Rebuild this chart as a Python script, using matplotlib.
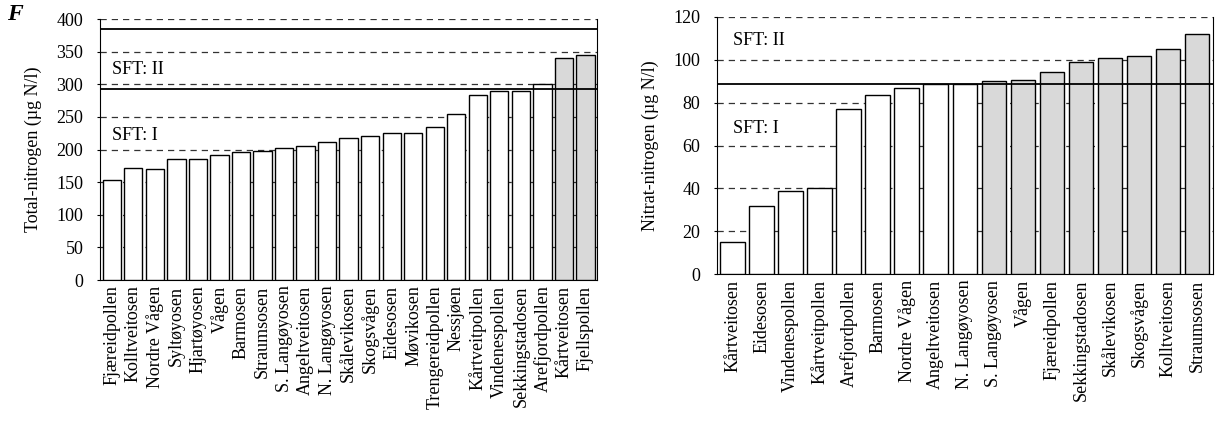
import matplotlib

matplotlib.use("Agg")
import matplotlib.pyplot as plt

plt.rcParams["font.family"] = ["Liberation Serif", "DejaVu Serif"]

# Panel F, left: total nitrogen
total_sites = [
    "Fjæreidpollen", "Kolltveitosen", "Nordre Vågen", "Syltøyosen", "Hjartøyosen",
    "Vågen", "Barmosen", "Straumsosen", "S. Langøyosen", "Angeltveitosen",
    "N. Langøyosen", "Skålevikosen", "Skogsvågen", "Eidesosen", "Møvikosen",
    "Trengereidpollen", "Nessjøen", "Kårtveitpollen", "Vindenespollen",
    "Sekkingstadosen", "Arefjordpollen", "Kårtveitosen", "Fjellspollen",
]
total_values = [153, 171, 170, 186, 186, 192, 196, 197, 203, 206, 211, 217, 220,
                226, 226, 234, 255, 284, 289, 289, 301, 341, 345]
total_dotted = [False] * 21 + [True] * 2
total_limits = [293, 385]

# right: nitrate nitrogen
nitrate_sites = [
    "Kårtveitosen", "Eidesosen", "Vindenespollen", "Kårtveitpollen", "Arefjordpollen",
    "Barmosen", "Nordre Vågen", "Angeltveitosen", "N. Langøyosen", "S. Langøyosen",
    "Vågen", "Fjæreidpollen", "Sekkingstadosen", "Skålevikosen", "Skogsvågen",
    "Kolltveitosen", "Straumsosen",
]
nitrate_values = [15.1, 31.9, 39.0, 40.0, 77.0, 83.8, 86.9, 88.7, 88.8, 90.0,
                  90.8, 94.1, 98.9, 100.9, 101.8, 104.9, 111.9]
nitrate_dotted = [False] * 9 + [True] * 8
nitrate_limits = [88.5]

FS = 13


def draw_panel(ax, sites, values, dotted, limits, ymax, ystep, ylabel, sft_pos):
    x = list(range(len(sites)))
    colors = ["#d9d9d9" if d else "white" for d in dotted]
    ax.bar(x, values, width=0.85, color=colors, edgecolor="black", linewidth=1.0, zorder=3)
    ticks = list(range(0, ymax + 1, ystep))
    for t in ticks[1:]:
        ax.axhline(t, color="#333333", linestyle=(0, (5, 4)), linewidth=0.9, zorder=1)
    for lim in limits:
        ax.axhline(lim, color="black", linewidth=1.3, zorder=4)
    ax.set_xlim(-0.55, len(sites) - 0.45)
    ax.set_ylim(0, ymax)
    ax.set_yticks(ticks)
    ax.set_xticks(x)
    ax.set_xticklabels(sites, rotation=90, fontsize=FS)
    ax.tick_params(axis="x", length=0, pad=4)
    ax.tick_params(axis="y", labelsize=FS, length=2, pad=10, direction="out")
    ax.spines["top"].set_visible(False)
    ax.set_ylabel(ylabel, fontsize=FS, labelpad=10)
    ax.text(0.0, sft_pos[1], "SFT: II", fontsize=FS, ha="left", va="center")
    ax.text(0.0, sft_pos[0], "SFT: I", fontsize=FS, ha="left", va="center")


fig = plt.figure(figsize=(12.19, 4.23), dpi=100)
ax1 = fig.add_axes([0.082, 0.338, 0.408, 0.617])
ax2 = fig.add_axes([0.588, 0.352, 0.407, 0.608])

draw_panel(ax1, total_sites, total_values, total_dotted, total_limits, 400, 50,
           "Total-nitrogen (µg N/l)", (221, 322))
draw_panel(ax2, nitrate_sites, nitrate_values, nitrate_dotted, nitrate_limits, 120, 20,
           "Nitrat-nitrogen (µg N/l)", (68, 109))

fig.text(0.006, 0.952, "F", fontsize=17, fontweight="bold", fontstyle="italic")

fig.savefig("out.png", dpi=100)
